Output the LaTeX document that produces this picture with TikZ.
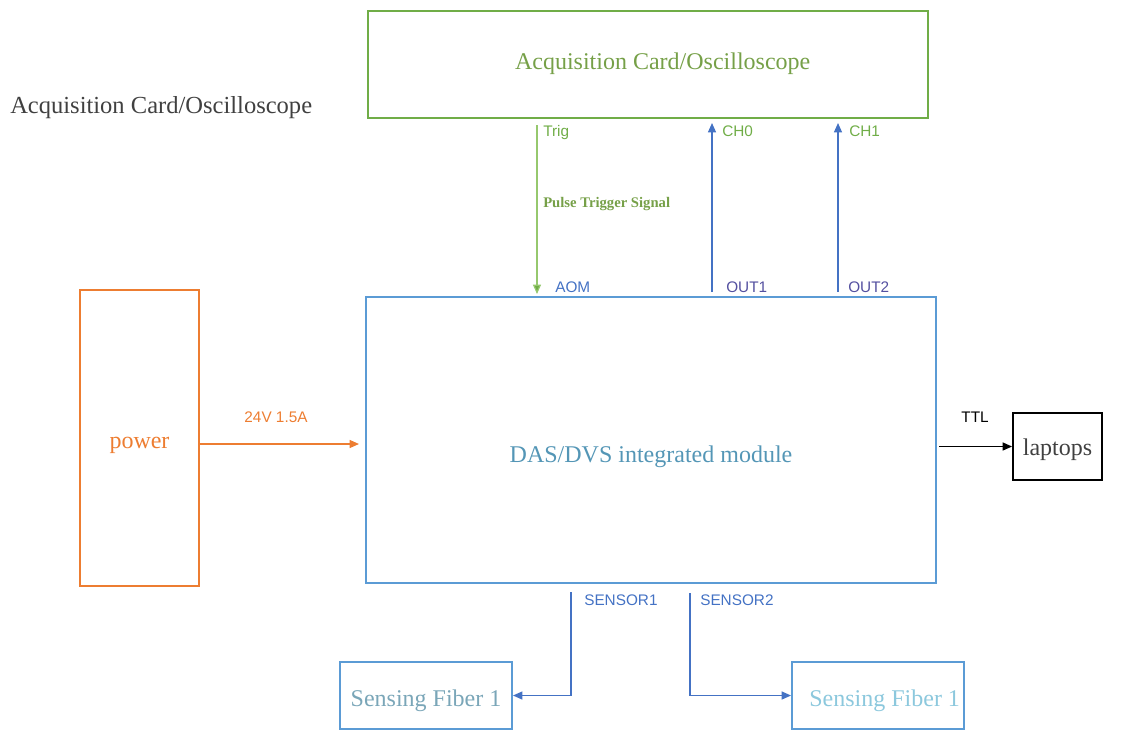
\documentclass[tikz,border=0pt]{standalone}
\usepackage{fontspec}
\setmainfont{Liberation Serif}
\setsansfont{Liberation Sans}
\usepackage{xcolor}
\usepackage{tikz}
\usetikzlibrary{positioning,calc,arrows.meta}
\definecolor{boxgreen}{RGB}{112,173,71}
\definecolor{textgreen}{RGB}{118,160,72}
\definecolor{trigline}{RGB}{150,200,110}
\definecolor{boxorange}{RGB}{237,125,49}
\definecolor{boxblue}{RGB}{91,155,213}
\definecolor{arrowblue}{RGB}{68,114,196}
\definecolor{outviolet}{RGB}{84,80,160}
\definecolor{dastext}{RGB}{84,150,182}
\definecolor{fibtexta}{RGB}{122,166,184}
\definecolor{fibtextb}{RGB}{140,200,221}
\definecolor{titlegray}{RGB}{64,64,64}
\newcommand{\pxu}{0.75pt}

\begin{document}
\begin{tikzpicture}[
	x=\pxu, y=-\pxu,
	% style for the blocks
	block/.style={
		draw,
		line width=1.5pt,
		inner sep=0pt,
		text height=18pt,
		text depth=2pt,
		font=\fontsize{18}{21}\selectfont
	},
	% small labels beside the wires
	pinlabel/.style={
		anchor=west,
		inner sep=0pt,
		text height=8pt,
		text depth=0pt,
		font=\sffamily\fontsize{11.5}{13}\selectfont
	},
	wire/.style={
		line width=0.9pt,
		-{Triangle[length=7pt,width=6pt]}
	}
	]
	\useasboundingbox (0,0) rectangle (1124,744);
	
	% the blocks
	\node[block, draw=boxgreen, text=textgreen, minimum width=560*\pxu, minimum height=107*\pxu] (acq) at (648,64.5) {\hspace{22pt}\raisebox{4pt}{Acquisition Card/Oscilloscope}};
	\node[block, draw=boxorange, text=boxorange, minimum width=119*\pxu, minimum height=296*\pxu] (power) at (139.5,438) {power};
	\node[block, draw=boxblue, text=dastext, minimum width=570*\pxu, minimum height=286*\pxu] (das) at (651,440) {\raisebox{-8.5pt}{DAS/DVS integrated module}};
	\node[block, draw=black, text=titlegray, minimum width=89*\pxu, minimum height=67*\pxu] (laptop) at (1057.5,446.5) {\raisebox{1.5pt}{laptops}};
	\node[block, draw=boxblue, text=fibtexta, minimum width=172*\pxu, minimum height=67*\pxu] (fiba) at (426,695.5) {Sensing Fiber 1};
	\node[block, draw=boxblue, text=fibtextb, minimum width=172*\pxu, minimum height=67*\pxu] (fibb) at (878,695.5) {\hspace{10pt}Sensing Fiber 1};
	
	% title on the left
	\node[anchor=base west, inner sep=0pt, text=titlegray, font=\fontsize{18.4}{21}\selectfont] (title) at (10,113) {Acquisition Card/Oscilloscope};
	
	% wire end points
	\coordinate (trig) at (537,125);
	\coordinate (out1) at (712,292);
	\coordinate (out2) at (838,292);
	\coordinate (ch0) at (712,123);
	\coordinate (ch1) at (838,123);
	\coordinate (pw) at (200,444);
	\coordinate (sensa) at (571,592);
	\coordinate (sensb) at (690,593);
	
	% wires
	\draw[wire, draw=trigline, -{Triangle[length=7pt,width=6pt,fill=boxgreen]}] (trig) -- ([yshift=2*\pxu]das.north -| trig);
	\draw[wire, draw=arrowblue] (out1) -- (ch0);
	\draw[wire, draw=arrowblue] (out2) -- (ch1);
	\draw[wire, draw=boxorange] (pw) -- ([xshift=-6*\pxu]das.west |- pw);
	\draw[wire, draw=black] ([xshift=2*\pxu]das.east |- laptop.west) -- (laptop.west);
	\draw[wire, draw=arrowblue] (sensa) |- (fiba.east);
	\draw[wire, draw=arrowblue] (sensb) |- (fibb.west);
	
	% labels
	\node[pinlabel, text=boxgreen] (ltrig) at (543,131) {Trig};
	\node[pinlabel, text=boxgreen] (lch0) at (722,131) {CH0};
	\node[pinlabel, text=boxgreen] (lch1) at (849,131) {CH1};
	\node[pinlabel, text=textgreen, font=\fontsize{11}{13}\selectfont\bfseries] (lpulse) at (543,202) {Pulse Trigger Signal};
	\node[pinlabel, text=arrowblue] (laom) at (555,287) {AOM};
	\node[pinlabel, text=outviolet] (lout1) at (726,287) {OUT1};
	\node[pinlabel, text=outviolet] (lout2) at (848,287) {OUT2};
	\node[pinlabel, text=arrowblue] (lsensa) at (584,600) {SENSOR1};
	\node[pinlabel, text=arrowblue] (lsensb) at (700,600) {SENSOR2};
	\node[pinlabel, anchor=center, text=boxorange] (lpw) at (276,417) {24V 1.5A};
	\node[pinlabel, anchor=center, text=black] (lttl) at (975,417) {TTL};
\end{tikzpicture}
\end{document}
